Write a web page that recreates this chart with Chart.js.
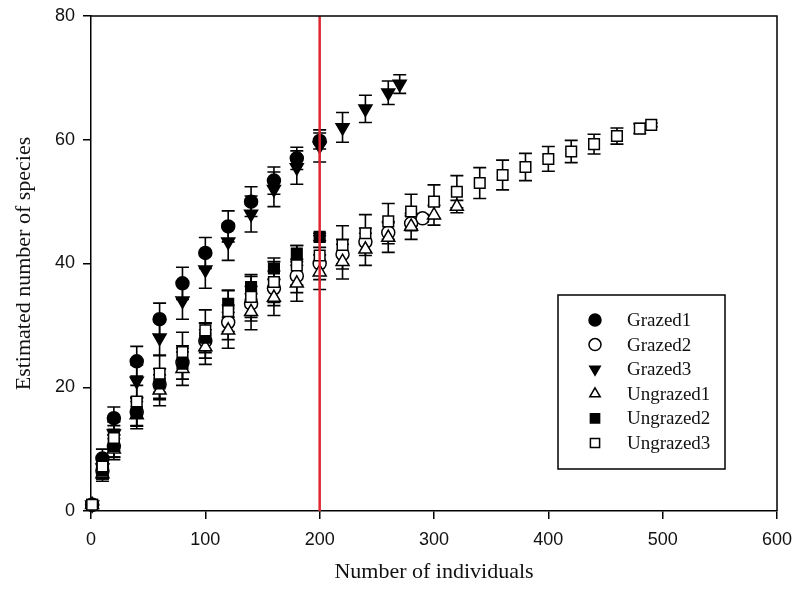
<!DOCTYPE html>
<html>
<head>
<meta charset="utf-8">
<script src="https://cdn.jsdelivr.net/npm/chart.js@4/dist/chart.umd.min.js"></script>
<style>
  body { margin: 0; background: #fff; }
  #wrap { width: 794px; height: 590px; }
</style>
</head>
<body>
<div id="wrap"><canvas id="chart-area" width="794" height="590"></canvas></div>
<script>
// series labels
var seriesNames = ['Grazed1', 'Grazed2', 'Grazed3', 'Ungrazed1', 'Ungrazed2', 'Ungrazed3'];

// Grazed1
var g1X = [1, 10, 20, 40, 60, 80, 100, 120, 140, 160, 180, 200];
var g1Y = [1, 8.5, 15, 24.2, 31, 36.8, 41.7, 46, 50, 53.4, 57, 59.8];
var g1E = [0, 1.5, 1.8, 2.4, 2.6, 2.6, 2.5, 2.5, 2.4, 2.2, 1.8, 1.3];

// Grazed2
var g2X = [1, 10, 20, 40, 60, 80, 100, 120, 140, 160, 180, 200, 220, 240, 260, 280, 290];
var g2Y = [1, 6.5, 10.5, 16, 20.5, 24, 27.5, 30.5, 33.5, 36, 38, 40, 41.5, 43.5, 45, 46.5, 47.3];
var g2E = [0, 1.3, 1.8, 2.3, 2.5, 2.7, 2.8, 2.8, 2.8, 2.8, 2.7, 2.6, 2.4, 2.2, 1.8, 1.2, 0.6];

// Grazed3
var g3X = [1, 10, 20, 40, 60, 80, 100, 120, 140, 160, 180, 200, 220, 240, 260, 270];
var g3Y = [1, 7, 12.5, 21, 28, 34, 39, 43.5, 48, 52, 55.5, 59, 62, 65, 67.6, 69];
var g3E = [0, 1.4, 1.9, 2.6, 2.9, 3, 3, 3, 2.9, 2.8, 2.7, 2.6, 2.4, 2.2, 1.9, 1.5];

// Ungrazed1
var u1X = [1, 10, 20, 40, 60, 80, 100, 120, 140, 160, 180, 200, 220, 240, 260, 280, 300, 320];
var u1Y = [1, 6, 10, 15.5, 19.5, 23, 26.5, 29.2, 32.2, 34.5, 36.8, 38.6, 40.3, 42.3, 44.2, 46, 47.8, 49.2];
var u1E = [0, 1.2, 1.7, 2.2, 2.5, 2.7, 2.8, 2.9, 2.9, 2.9, 2.9, 2.8, 2.8, 2.6, 2.4, 2.1, 1.6, 1];

// Ungrazed2
var u2X = [1, 10, 20, 40, 60, 80, 100, 120, 140, 160, 180, 200];
var u2Y = [1, 6.5, 10.5, 16, 20.6, 23.8, 28, 33.5, 36.2, 39.2, 41.6, 44.3];
var u2E = [0, 1.3, 1.8, 2.2, 2.4, 2.5, 2.4, 2.2, 2, 1.7, 1.3, 0.6];

// Ungrazed3
var u3X = [1, 10, 20, 40, 60, 80, 100, 120, 140, 160, 180, 200, 220, 240, 260, 280, 300, 320, 340, 360, 380, 400, 420, 440, 460, 480, 490];
var u3Y = [1, 7.2, 11.8, 17.7, 22.2, 25.7, 29.2, 32.3, 34.6, 37, 39.7, 41.3, 43, 44.9, 46.8, 48.4, 50, 51.6, 53, 54.3, 55.6, 56.9, 58.1, 59.3, 60.6, 61.8, 62.4];
var u3E = [0, 1.5, 2, 2.6, 3, 3.2, 3.3, 3.3, 3.3, 3.3, 3.2, 3.2, 3.1, 3, 2.9, 2.8, 2.7, 2.6, 2.5, 2.4, 2.2, 2, 1.8, 1.6, 1.3, 0.8, 0.3];

// vertical reference line
var refLineX = 200;
var refLineY = [0, 80];

var xTicks = [0, 100, 200, 300, 400, 500, 600];
var yTicks = [0, 20, 40, 60, 80];

function pts(xs, ys) {
    var out = [];
    for (var i = 0; i < xs.length; i++) {
        out.push({x: xs[i], y: ys[i]});
    }
    return out;
}

function series(idx, xs, ys, es, style, filled, radius, rot, order) {
    return {
        label: seriesNames[idx],
        data: pts(xs, ys),
        err: es,
        pointStyle: style,
        pointRotation: rot,
        pointRadius: radius,
        pointBackgroundColor: filled ? '#000' : '#fff',
        pointBorderColor: '#000',
        pointBorderWidth: 1.5,
        showLine: false,
        clip: false,
        order: order
    };
}

// error bars, drawn under the markers
var errorBars = {
    id: 'errorBars',
    beforeDatasetsDraw: function(chart) {
        var ctx = chart.ctx;
        var xs = chart.scales.x, ys = chart.scales.y;
        ctx.save();
        ctx.strokeStyle = '#000';
        ctx.lineWidth = 1.6;
        chart.data.datasets.forEach(function(ds) {
            if (!ds.err) return;
            ds.data.forEach(function(p, i) {
                var e = ds.err[i];
                if (!e) return;
                var x = xs.getPixelForValue(p.x);
                var yt = ys.getPixelForValue(p.y + e);
                var yb = ys.getPixelForValue(p.y - e);
                ctx.beginPath();
                ctx.moveTo(x, yt); ctx.lineTo(x, yb);
                ctx.moveTo(x - 6.5, yt); ctx.lineTo(x + 6.5, yt);
                ctx.moveTo(x - 6.5, yb); ctx.lineTo(x + 6.5, yb);
                ctx.stroke();
            });
        });
        ctx.restore();
    }
};

// top/right frame and boxed legend
var frameLegend = {
    id: 'frameLegend',
    afterDraw: function(chart) {
        var ctx = chart.ctx, a = chart.chartArea;
        ctx.save();
        ctx.strokeStyle = '#000';
        ctx.lineWidth = 1.5;
        ctx.beginPath();
        ctx.moveTo(a.left, a.top); ctx.lineTo(a.right, a.top); ctx.lineTo(a.right, a.bottom);
        ctx.stroke();

        var bx = a.right - 219, by = a.top + 279, bw = 167, bh = 174;
        ctx.fillStyle = '#fff';
        ctx.fillRect(bx, by, bw, bh);
        ctx.strokeRect(bx, by, bw, bh);

        ctx.font = '19px "Liberation Serif", "Times New Roman", serif';
        ctx.textBaseline = 'middle';
        var sets = chart.data.datasets.filter(function(d) { return d.err; });
        sets.forEach(function(ds, i) {
            var cy = by + 25 + i * 24.6;
            ctx.fillStyle = ds.pointBackgroundColor;
            ctx.strokeStyle = '#000';
            ctx.lineWidth = 1.5;
            Chart.helpers.drawPoint(ctx, {
                pointStyle: ds.pointStyle,
                rotation: ds.pointRotation,
                radius: ds.pointStyle === 'rect' ? 6.5 : 6,
                borderWidth: 1.5
            }, bx + 37, cy);
            ctx.fillStyle = '#111';
            ctx.fillText(ds.label, bx + 69, cy + 1);
        });
        ctx.restore();
    }
};

window.onload = function () {
    var ctx = document.getElementById('chart-area').getContext('2d');

    var config = {
        type: 'scatter',
        data: {
            datasets: [
                series(0, g1X, g1Y, g1E, 'circle', true, 6.5, 0, 6),
                series(1, g2X, g2Y, g2E, 'circle', false, 6.5, 0, 5),
                series(2, g3X, g3Y, g3E, 'triangle', true, 7.5, 180, 4),
                series(3, u1X, u1Y, u1E, 'triangle', false, 7.5, 0, 3),
                series(4, u2X, u2Y, u2E, 'rect', true, 7.5, 0, 2),
                series(5, u3X, u3Y, u3E, 'rect', false, 7.5, 0, 1),
                {
                    type: 'line',
                    label: 'ref',
                    data: pts([refLineX, refLineX], refLineY),
                    borderColor: 'rgb(222,38,48)',
                    borderWidth: 2.5,
                    pointRadius: 0,
                    order: 0
                }
            ]
        },
        options: {
            responsive: false,
            animation: false,
            layout: { padding: { top: 16, right: 17, left: 0, bottom: 0 } },
            plugins: {
                legend: { display: false },
                tooltip: { enabled: false }
            },
            scales: {
                x: {
                    type: 'linear',
                    min: 0, max: 600,
                    afterFit: function(s) { s.height = 79; s.paddingLeft = 0; s.paddingRight = 0; },
                    afterBuildTicks: function(s) { s.ticks = xTicks.map(function(v) { return {value: v}; }); },
                    grid: { drawOnChartArea: false, drawTicks: true, tickLength: 8, color: '#000', lineWidth: 1.5 },
                    border: { color: '#000', width: 1.5 },
                    ticks: { color: '#111', padding: 10, maxRotation: 0,
                             font: { family: '"Liberation Sans", Arial, sans-serif', size: 18 } },
                    title: { display: true, text: 'Number of individuals', color: '#111',
                             padding: { top: 0, bottom: 5 },
                             font: { family: '"Liberation Serif", "Times New Roman", serif', size: 22 } }
                },
                y: {
                    type: 'linear',
                    min: 0, max: 80,
                    afterFit: function(s) { s.width = 91; s.paddingTop = 0; s.paddingBottom = 0; },
                    afterBuildTicks: function(s) { s.ticks = yTicks.map(function(v) { return {value: v}; }); },
                    grid: { drawOnChartArea: false, drawTicks: true, tickLength: 8, color: '#000', lineWidth: 1.5 },
                    border: { color: '#000', width: 1.5 },
                    ticks: { color: '#111', padding: 8,
                             font: { family: '"Liberation Sans", Arial, sans-serif', size: 18 } },
                    title: { display: true, text: 'Estimated number of species', color: '#111',
                             padding: { top: 11, bottom: 0 },
                             font: { family: '"Liberation Serif", "Times New Roman", serif', size: 22 } }
                }
            }
        },
        plugins: [errorBars, frameLegend]
    };

    window.myChart = new Chart(ctx, config);
};
</script>
</body>
</html>
